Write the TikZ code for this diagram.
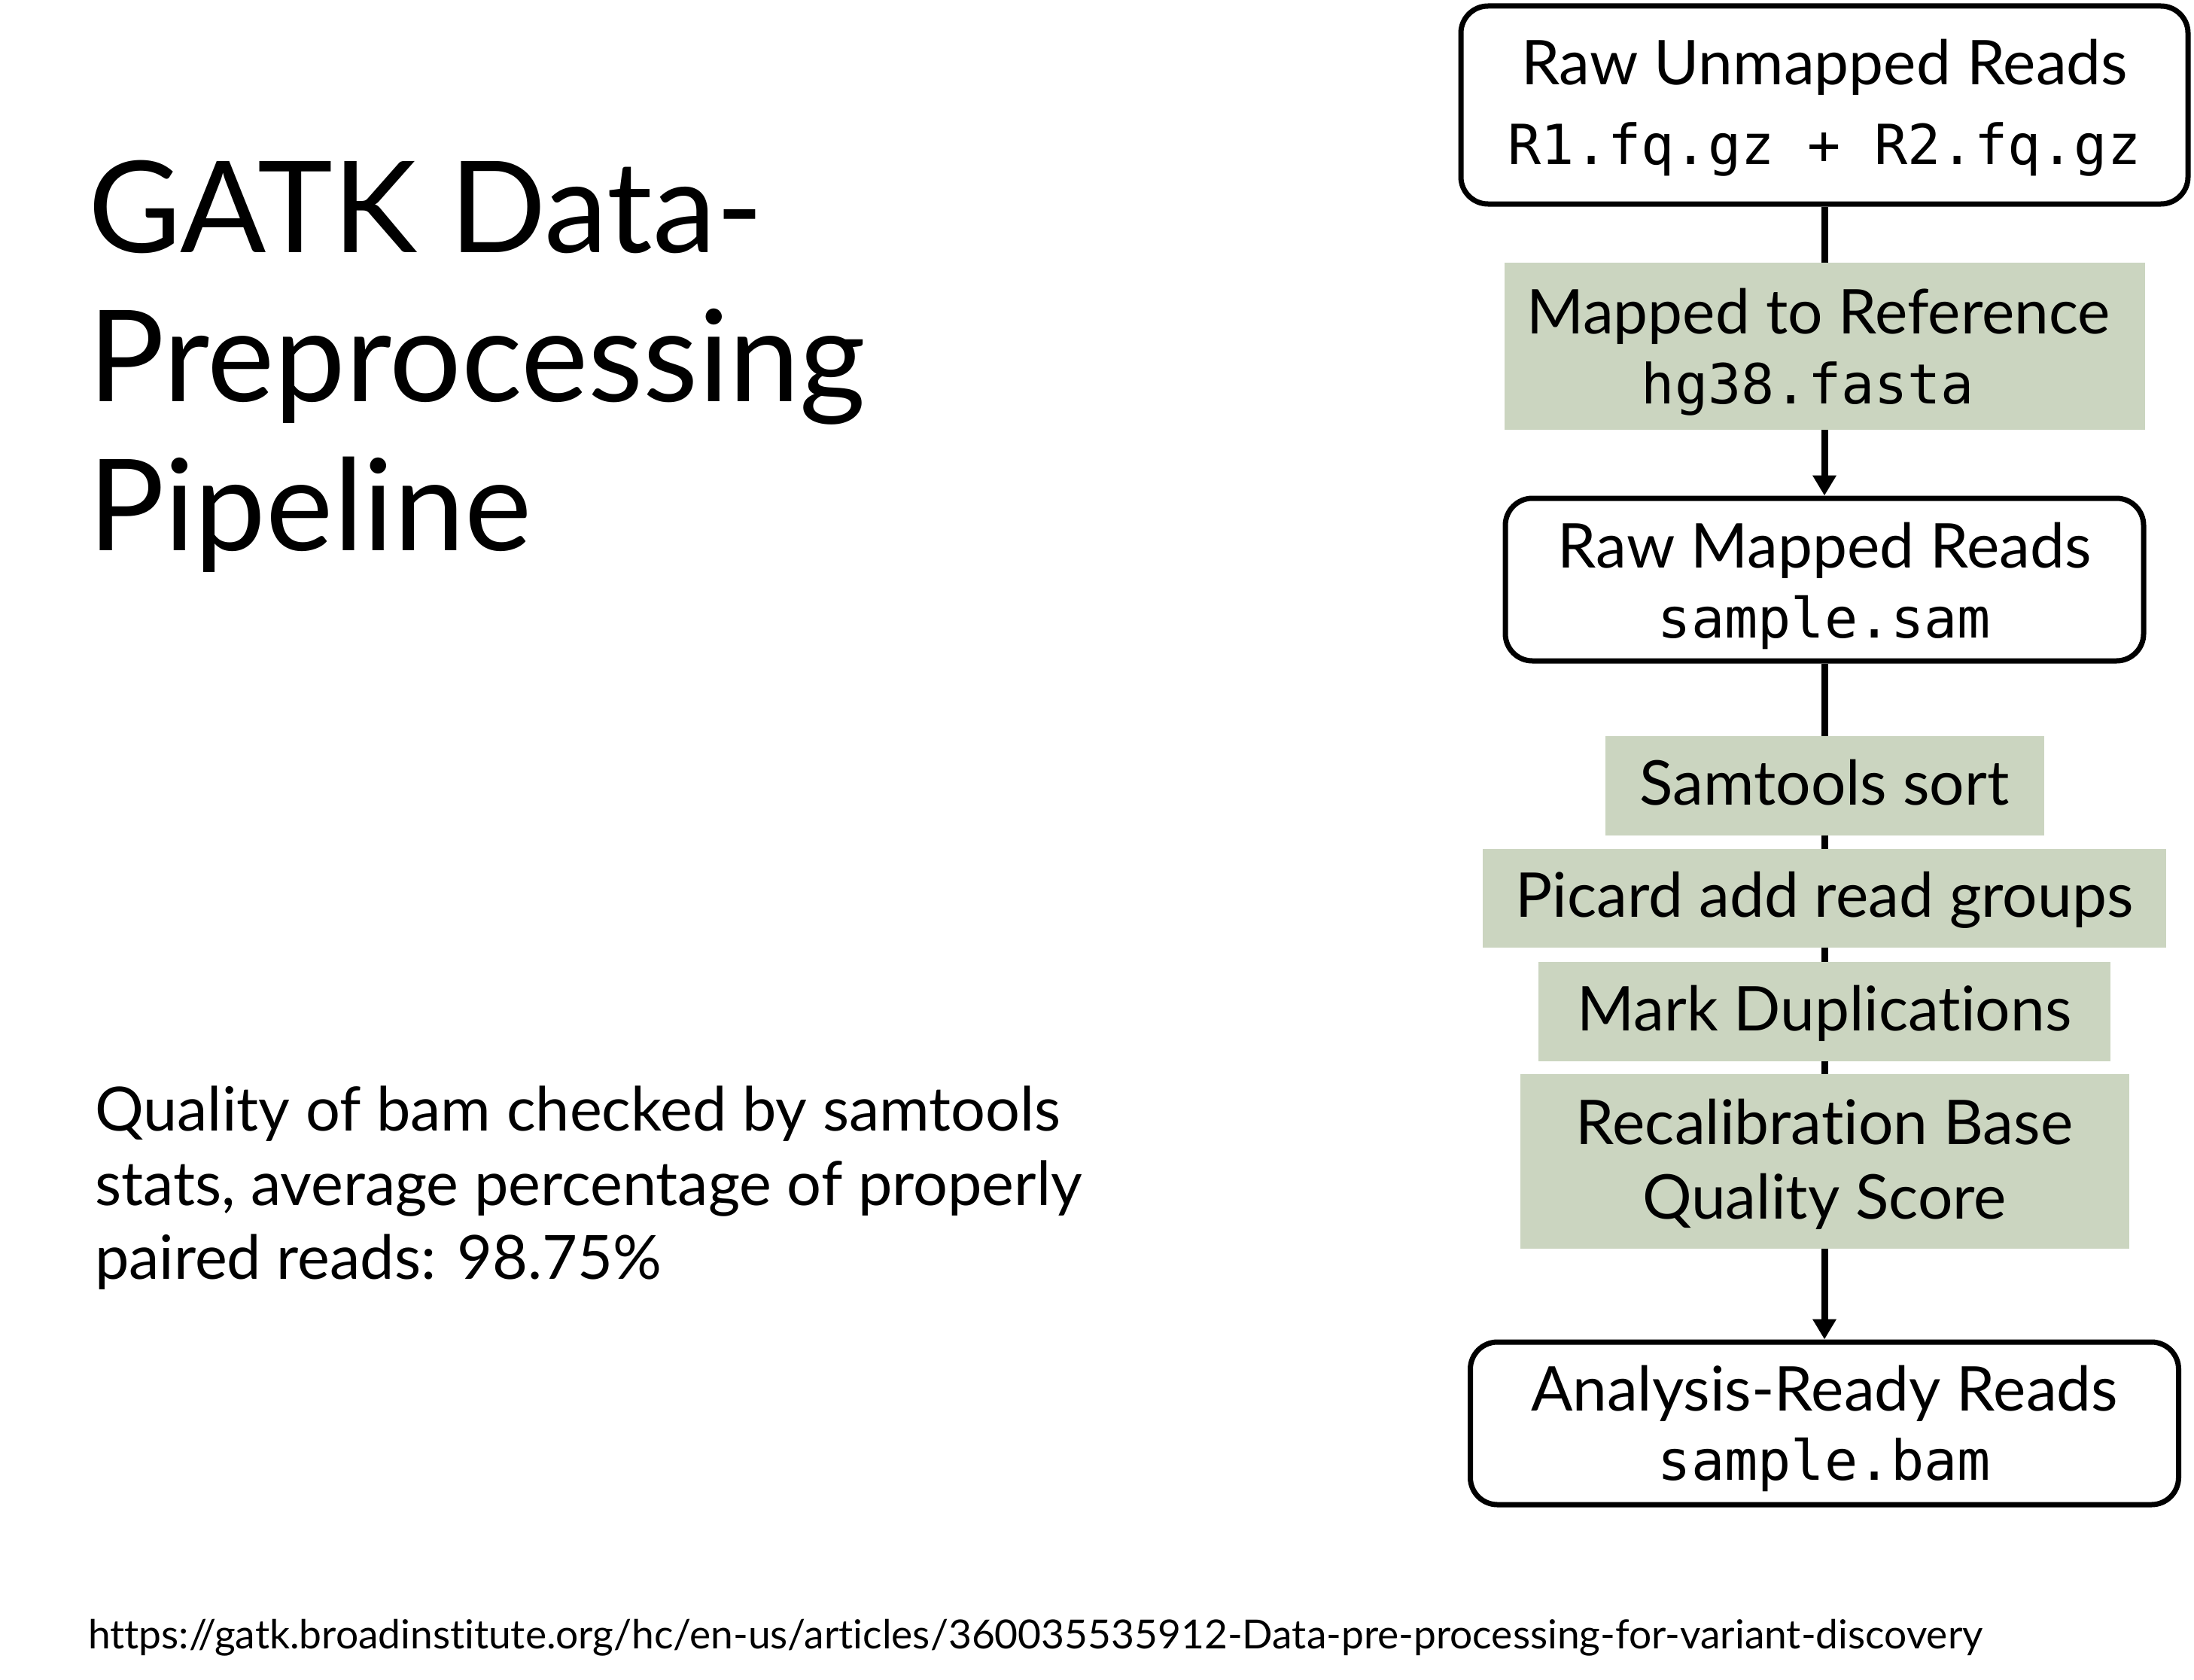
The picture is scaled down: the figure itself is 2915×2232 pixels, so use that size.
\documentclass[tikz,border=0pt]{standalone}
\usepackage{fontspec}
\setmainfont[Ligatures=NoCommon]{Lato}
\setmonofont{DejaVu Sans Mono}
\usetikzlibrary{arrows.meta}
\definecolor{stepgreen}{RGB}{203,213,192}
\newcommand{\hstrut}[1]{\rule{0pt}{#1pt}}
\newcommand{\dstrut}[1]{\rule[-#1pt]{0pt}{#1pt}}
\newcommand{\monotxt}[1]{{\fontsize{73.5}{90}\selectfont\ttfamily #1}}
\begin{document}
\begin{tikzpicture}[x=1pt,y=-1pt,
  roundbox/.style={draw=black, line width=7pt, rounded corners=36pt, fill=white, align=center, inner sep=0pt},
  greenbox/.style={fill=stepgreen, draw=none, align=center, inner sep=0pt},
  onebox/.style={greenbox, font=\fontsize{82}{90}\selectfont, text height=70pt, text depth=20pt},
  conn/.style={line width=9pt},
  arr/.style={line width=9pt, -{Triangle[width=30pt,length=27pt]}},
  txt/.style={anchor=base west, inner sep=0pt},
  title/.style={txt, font=\fontsize{169}{198}\selectfont},
  body/.style={txt, font=\fontsize{81}{98}\selectfont}
  ]
\useasboundingbox (0,0) rectangle (2915,2232);
\fill[white] (0,0) rectangle (2915,2232);
% title
\node[title] (t1) at (117,335) {GATK Data-};
\node[title] (t2) at (117,533) {Preprocessing};
\node[title] (t3) at (117,731) {Pipeline};
% quality text
\node[body] (q1) at (126,1502) {Quality of bam checked by samtools};
\node[body] (q2) at (126,1601) {stats, average percentage of properly};
\node[body] (q3) at (126,1699) {paired reads: 98.75\%};
% url
\node[txt, font=\fontsize{53.3}{60}\selectfont] (url) at (117,2190) {https://gatk.broadinstitute.org/hc/en-us/articles/360035535912-Data-pre-processing-for-variant-discovery};
% flow
\node[roundbox, font=\fontsize{82}{106}\selectfont, minimum width=966, minimum height=263] (b1) at (2424,139.5)
  {\hstrut{81}Raw Unmapped Reads\\\monotxt{R1.fq.gz + R2.fq.gz}\dstrut{30}};
\node[greenbox, font=\fontsize{82}{93}\selectfont, minimum width=851, minimum height=222] (b2) at (2424,460)
  {\hstrut{79}Mapped to Reference\kern16pt\\\monotxt{hg38.fasta}\kern44pt\dstrut{20}};
\node[roundbox, font=\fontsize{82}{93}\selectfont, minimum width=848, minimum height=216] (b3) at (2424,770)
  {\hstrut{81}Raw Mapped Reads\\\monotxt{sample.sam}\dstrut{20}};
\node[onebox, minimum width=583, minimum height=132] (s1) at (2424,1044) {Samtools sort};
\node[onebox, minimum width=908, minimum height=131] (s2) at (2424,1193.5) {Picard add read groups};
\node[onebox, minimum width=760, minimum height=132] (s3) at (2424,1344) {Mark Duplications};
\node[greenbox, font=\fontsize{82}{99}\selectfont, minimum width=809, minimum height=232] (s4) at (2424,1543)
  {\hstrut{83}Recalibration Base\\Quality Score\dstrut{30}};
\node[roundbox, font=\fontsize{82}{92}\selectfont, minimum width=941, minimum height=216] (b4) at (2424,1891)
  {\hstrut{78}Analysis-Ready Reads\\\monotxt{sample.bam}\dstrut{20}};
% connectors
\draw[conn] (b1.south) -- (b2.north);
\draw[arr] (b2.south) -- (b3.north);
\draw[conn] (b3.south) -- (s1.north);
\draw[conn] (s1.south) -- (s2.north);
\draw[conn] (s2.south) -- (s3.north);
\draw[conn] (s3.south) -- (s4.north);
\draw[arr] (s4.south) -- (b4.north);
\end{tikzpicture}
\end{document}
